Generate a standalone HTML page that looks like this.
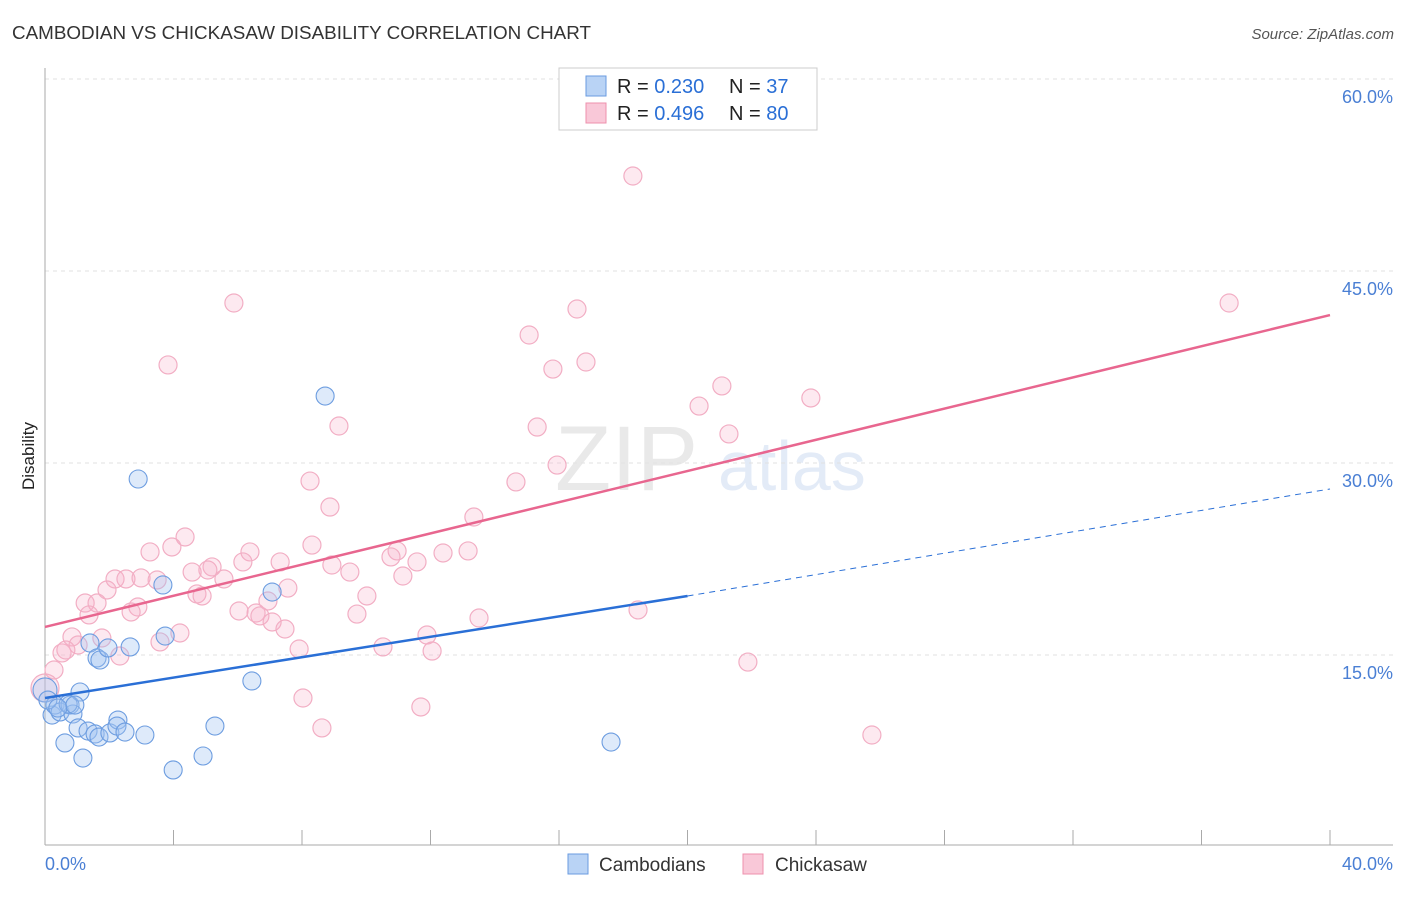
<!DOCTYPE html>
<html><head><meta charset="utf-8"><style>
body{margin:0;background:#fff;font-family:"Liberation Sans",sans-serif}
svg text{font-family:"Liberation Sans",sans-serif}
</style></head><body>
<svg id="chart" width="1406" height="892" xmlns="http://www.w3.org/2000/svg">
<text x="12" y="39" font-size="18" fill="#333" textLength="579" lengthAdjust="spacingAndGlyphs">CAMBODIAN VS CHICKASAW DISABILITY CORRELATION CHART</text>
<text x="1394" y="39" font-size="15" fill="#555" font-style="italic" text-anchor="end">Source: ZipAtlas.com</text>
<text x="34" y="456" font-size="17" fill="#222" text-anchor="middle" transform="rotate(-90 34 456)">Disability</text>
<g opacity="0.18">
<text x="555" y="490" font-size="92" fill="#888" font-family="Liberation Serif">ZIP</text>
<text x="718" y="490" font-size="70" fill="#6a93d8">atlas</text>
</g>
<g id="grid"></g>
<g id="axes"></g>
<g id="marks"></g>
<g>
<rect x="559" y="68" width="258" height="62" fill="#fff" stroke="#ccc"/>
<rect x="586" y="76" width="20" height="20" fill="#b9d3f5" stroke="#6a9be0"/>
<rect x="586" y="103" width="20" height="20" fill="#f9c8d8" stroke="#ee90ad"/>
<text x="617" y="93" font-size="20" fill="#222">R = <tspan fill="#2a6fd6">0.230</tspan></text>
<text x="729" y="93" font-size="20" fill="#222">N = <tspan fill="#2a6fd6"> 37</tspan></text>
<text x="617" y="120" font-size="20" fill="#222">R = <tspan fill="#2a6fd6">0.496</tspan></text>
<text x="729" y="120" font-size="20" fill="#222">N = <tspan fill="#2a6fd6">80</tspan></text>
</g>
<g>
<rect x="568" y="854" width="20" height="20" fill="#b9d3f5" stroke="#6a9be0"/>
<text x="599" y="871" font-size="19" fill="#333">Cambodians</text>
<rect x="743" y="854" width="20" height="20" fill="#f9c8d8" stroke="#ee90ad"/>
<text x="775" y="871" font-size="19" fill="#333">Chickasaw</text>
</g>
</svg>
<script>
const yTicks=[15,30,45,60];
const yTickLabels=["15.0%","30.0%","45.0%","60.0%"];
const xTickLabels=["0.0%","40.0%"];
const cambX=[0,0.22,0.31,0.47,0.62,0.78,0.87,1.03,1.09,1.18,1.34,1.40,1.56,1.62,1.68,1.71,1.96,2.02,2.27,2.24,2.49,2.65,2.90,3.11,3.67,3.74,3.99,4.92,5.29,6.44,7.07,8.72,17.62,0.72,0.09,0.40,0.93];
const cambY=[12.27,10.31,11.09,10.55,8.13,11.09,10.39,9.30,12.11,6.95,9.06,15.94,8.83,14.77,8.59,14.61,15.55,8.91,9.92,9.45,8.98,15.63,28.75,8.75,20.47,16.48,6.02,7.11,9.45,12.97,19.92,35.23,8.20,11.17,11.48,10.86,11.09];
const chickX=[18.30,5.88,16.56,36.86,15.07,3.83,15.81,16.84,21.07,23.84,20.36,9.15,21.29,15.32,15.94,8.25,14.66,8.87,13.35,4.36,3.95,3.27,8.31,6.38,10.96,12.39,13.17,10.77,6.16,7.32,11.58,8.93,5.20,5.07,4.58,9.49,2.18,2.52,2.99,3.49,5.57,11.14,7.56,1.93,4.73,4.89,10.02,6.94,1.25,1.62,2.89,2.68,6.04,6.57,6.69,9.71,13.51,18.46,1.37,7.07,7.47,4.20,11.89,0.84,1.77,3.58,1.03,10.52,7.91,0.53,0.65,12.05,2.33,21.88,0.28,0,8.03,11.70,8.62,25.74];
const chickY=[52.42,42.50,42.03,42.50,40.00,37.66,37.34,37.89,36.02,35.08,34.45,32.89,32.27,32.81,29.84,28.59,28.52,26.56,25.78,24.22,23.44,23.05,23.59,23.05,23.13,22.97,23.13,22.66,22.27,22.27,22.27,22.03,21.88,21.64,21.48,21.48,20.94,20.94,21.02,20.86,20.94,21.17,20.23,20.08,19.77,19.61,19.61,19.22,19.06,19.06,18.75,18.36,18.44,18.28,18.05,18.20,17.89,18.52,18.13,17.58,17.03,16.72,16.56,16.41,16.33,16.02,15.78,15.63,15.47,15.16,15.39,15.31,14.92,14.45,13.83,12.42,11.64,10.94,9.30,8.75];
const cambTrend=[11.64,19.61,27.97];
const chickTrend=[17.19,41.56];
const NS="http://www.w3.org/2000/svg";
const sx=v=>45+v*32.125, sy=v=>847-v*12.8;
function mk(tag,attrs,parent){const e=document.createElementNS(NS,tag);for(const k in attrs)e.setAttribute(k,attrs[k]);parent.appendChild(e);return e;}
const grid=document.getElementById('grid'),axes=document.getElementById('axes'),marks=document.getElementById('marks');
yTicks.forEach((t,i)=>{
 const l=mk('line',{x1:45,x2:1393,y1:sy(t),y2:sy(t),stroke:'#e2e2e2','stroke-dasharray':'4 4'},grid);
 
 
 const tx=mk('text',{x:1393,y:sy(t)+24,'font-size':18,fill:'#4a7fd4','text-anchor':'end'},axes);
 tx.textContent=yTickLabels[i];
 
 
});
let a=mk('line',{x1:45,x2:45,y1:68,y2:845,stroke:'#aaa'},axes);


a=mk('line',{x1:45,x2:1393,y1:845,y2:845,stroke:'#aaa'},axes);


for(let i=0;i<=10;i++){const t=mk('line',{x1:sx(i*4),x2:sx(i*4),y1:830,y2:845,stroke:'#aaa'},axes);
 
 }
let xl=mk('text',{x:45,y:870,'font-size':18,fill:'#4a7fd4'},axes);xl.textContent=xTickLabels[0];


xl=mk('text',{x:1393,y:870,'font-size':18,fill:'#4a7fd4','text-anchor':'end'},axes);xl.textContent=xTickLabels[1];


chickX.forEach((x,i)=>{const c=mk('circle',{cx:sx(x),cy:sy(chickY[i]),r:i==75?14:9,fill:'rgba(248,175,200,0.28)',stroke:'#f2aec4','stroke-width':1.2},marks);
 
 });
cambX.forEach((x,i)=>{const c=mk('circle',{cx:sx(x),cy:sy(cambY[i]),r:i==0?12:9,fill:'rgba(160,196,240,0.35)',stroke:'#6d9de0','stroke-width':1.1},marks);
 
 });
let tl=mk('line',{x1:sx(0),y1:sy(chickTrend[0]),x2:sx(40),y2:sy(chickTrend[1]),stroke:'#e8668f','stroke-width':2.5},marks);


tl=mk('line',{x1:sx(0),y1:sy(cambTrend[0]),x2:sx(20),y2:sy(cambTrend[1]),stroke:'#2a6fd6','stroke-width':2.5},marks);


tl=mk('line',{x1:sx(20),y1:sy(cambTrend[1]),x2:sx(40),y2:sy(cambTrend[2]),stroke:'#2a6fd6','stroke-width':1,'stroke-dasharray':'6 5'},marks);


</script>
</body></html>
